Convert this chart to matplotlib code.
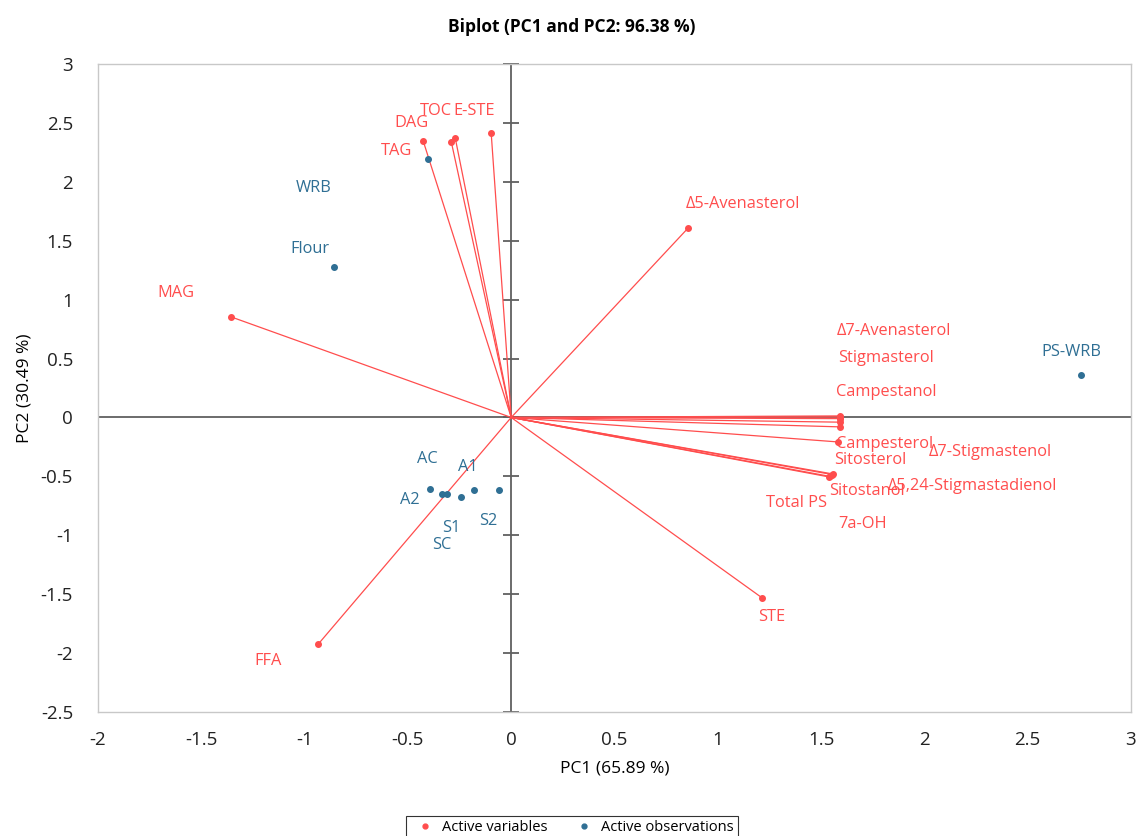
import matplotlib
matplotlib.use("Agg")
import matplotlib.pyplot as plt
from matplotlib.lines import Line2D

plt.rcParams['font.family'] = ['Open Sans', 'Noto Sans', 'DejaVu Sans']

RED = '#ff4d4d'
BLUE = '#2f6f94'

# variables (red vectors)
var_names = ["DAG", "TOC", "E-STE", "TAG", "Δ5-Avenasterol", "MAG", "FFA", "STE",
             "Δ7-Avenasterol", "Stigmasterol", "Campestanol", "Δ7-Stigmastenol", "7a-OH",
             "Campesterol", "Sitosterol", "Δ5,24-Stigmastadienol", "Sitostanol", "Total PS"]
var_x = [-0.426, -0.290, -0.097, -0.271, 0.857, -1.355, -0.934, 1.215,
         1.592, 1.593, 1.593, 1.593, 1.592, 1.583, 1.558, 1.555, 1.539, 1.542]
var_y = [2.347, 2.339, 2.417, 2.373, 1.609, 0.853, -1.924, -1.532,
         0.013, 0.004, -0.010, -0.040, -0.080, -0.208, -0.480, -0.485, -0.505, -0.500]
var_lx = [-0.484, -0.363, -0.179, -0.557, 1.123, -1.621, -1.176, 1.263,
          1.854, 1.815, 1.815, 2.318, 1.699, 1.805, 1.738, 2.231, 1.723, 1.379]
var_ly = [2.500, 2.602, 2.602, 2.262, 1.812, 1.057, -2.067, -1.694,
          0.734, 0.505, 0.216, -0.293, -0.904, -0.225, -0.361, -0.581, -0.624, -0.726]

# observations (blue points)
obs_names = ["WRB", "Flour", "PS-WRB", "AC", "A2", "S1", "SC", "A1", "S2"]
obs_x = [-0.405, -0.857, 2.759, -0.392, -0.333, -0.311, -0.245, -0.178, -0.061]
obs_y = [2.190, 1.278, 0.361, -0.610, -0.652, -0.652, -0.672, -0.618, -0.618]
obs_lx = [-0.954, -0.973, 2.711, -0.407, -0.489, -0.290, -0.334, -0.208, -0.111]
obs_ly = [1.948, 1.430, 0.556, -0.352, -0.700, -0.939, -1.083, -0.420, -0.879]

x_ticks = [-2, -1.5, -1, -0.5, 0, 0.5, 1, 1.5, 2, 2.5, 3]
y_ticks = [-2.5, -2, -1.5, -1, -0.5, 0, 0.5, 1, 1.5, 2, 2.5, 3]

fig = plt.figure(figsize=(11.38, 8.36), dpi=100)
ax = fig.add_axes([98 / 1138, 1 - 712 / 836, 1033 / 1138, 648 / 836])
ax.set_xlim(-2, 3)
ax.set_ylim(-2.5, 3)

for s in ax.spines.values():
    s.set_color('#c8c8c8')
    s.set_linewidth(1)

ax.set_xticks(x_ticks)
ax.set_yticks(y_ticks)
ax.set_xticklabels([f"{t:g}" for t in x_ticks])
ax.set_yticklabels([f"{t:g}" for t in y_ticks])
ax.tick_params(length=0, labelsize=13.5, colors='#222222')
ax.tick_params(axis='x', pad=14)
ax.tick_params(axis='y', pad=18)

# centre axes with tick marks on the vertical one
ax.axhline(0, color='#606060', lw=1.3, zorder=1)
ax.axvline(0, color='#606060', lw=1.3, zorder=1)
ax.plot([0] * len(y_ticks), y_ticks, ls='none', marker='_', ms=12, mew=1.3,
        color='#606060', clip_on=False, zorder=1)

for x, y in zip(var_x, var_y):
    ax.plot([0, x], [0, y], color=RED, lw=0.9, zorder=2)
ax.scatter(var_x, var_y, s=16, color=RED, zorder=3)
ax.scatter(obs_x, obs_y, s=16, color=BLUE, zorder=3)

for n, x, y in zip(var_names, var_lx, var_ly):
    ax.text(x, y, n, color=RED, fontsize=11.8, ha='center', va='center', zorder=4)
for n, x, y in zip(obs_names, obs_lx, obs_ly):
    ax.text(x, y, n, color=BLUE, fontsize=11.8, ha='center', va='center', zorder=4)

ax.set_xlabel("PC1 (65.89 %)", fontsize=12.5, labelpad=8)
ax.set_ylabel("PC2 (30.49 %)", fontsize=12.5, labelpad=6)
fig.text(572 / 1138, 1 - 27 / 836, "Biplot (PC1 and PC2: 96.38 %)", fontsize=12.5,
         fontweight='bold', ha='center', va='center')

handles = [Line2D([], [], ls='none', marker='o', ms=3.5, color=RED),
           Line2D([], [], ls='none', marker='o', ms=3.5, color=BLUE)]
leg = fig.legend(handles, ["Active variables", "Active observations"], ncol=2,
                 loc='upper center', bbox_to_anchor=(572 / 1138, 1 - 809 / 836),
                 fontsize=10.5, frameon=True, fancybox=False, handletextpad=0.2,
                 columnspacing=1.5, borderpad=0.25)
leg.get_frame().set_edgecolor('black')
leg.get_frame().set_linewidth(0.8)

fig.savefig("out.png", dpi=100)
